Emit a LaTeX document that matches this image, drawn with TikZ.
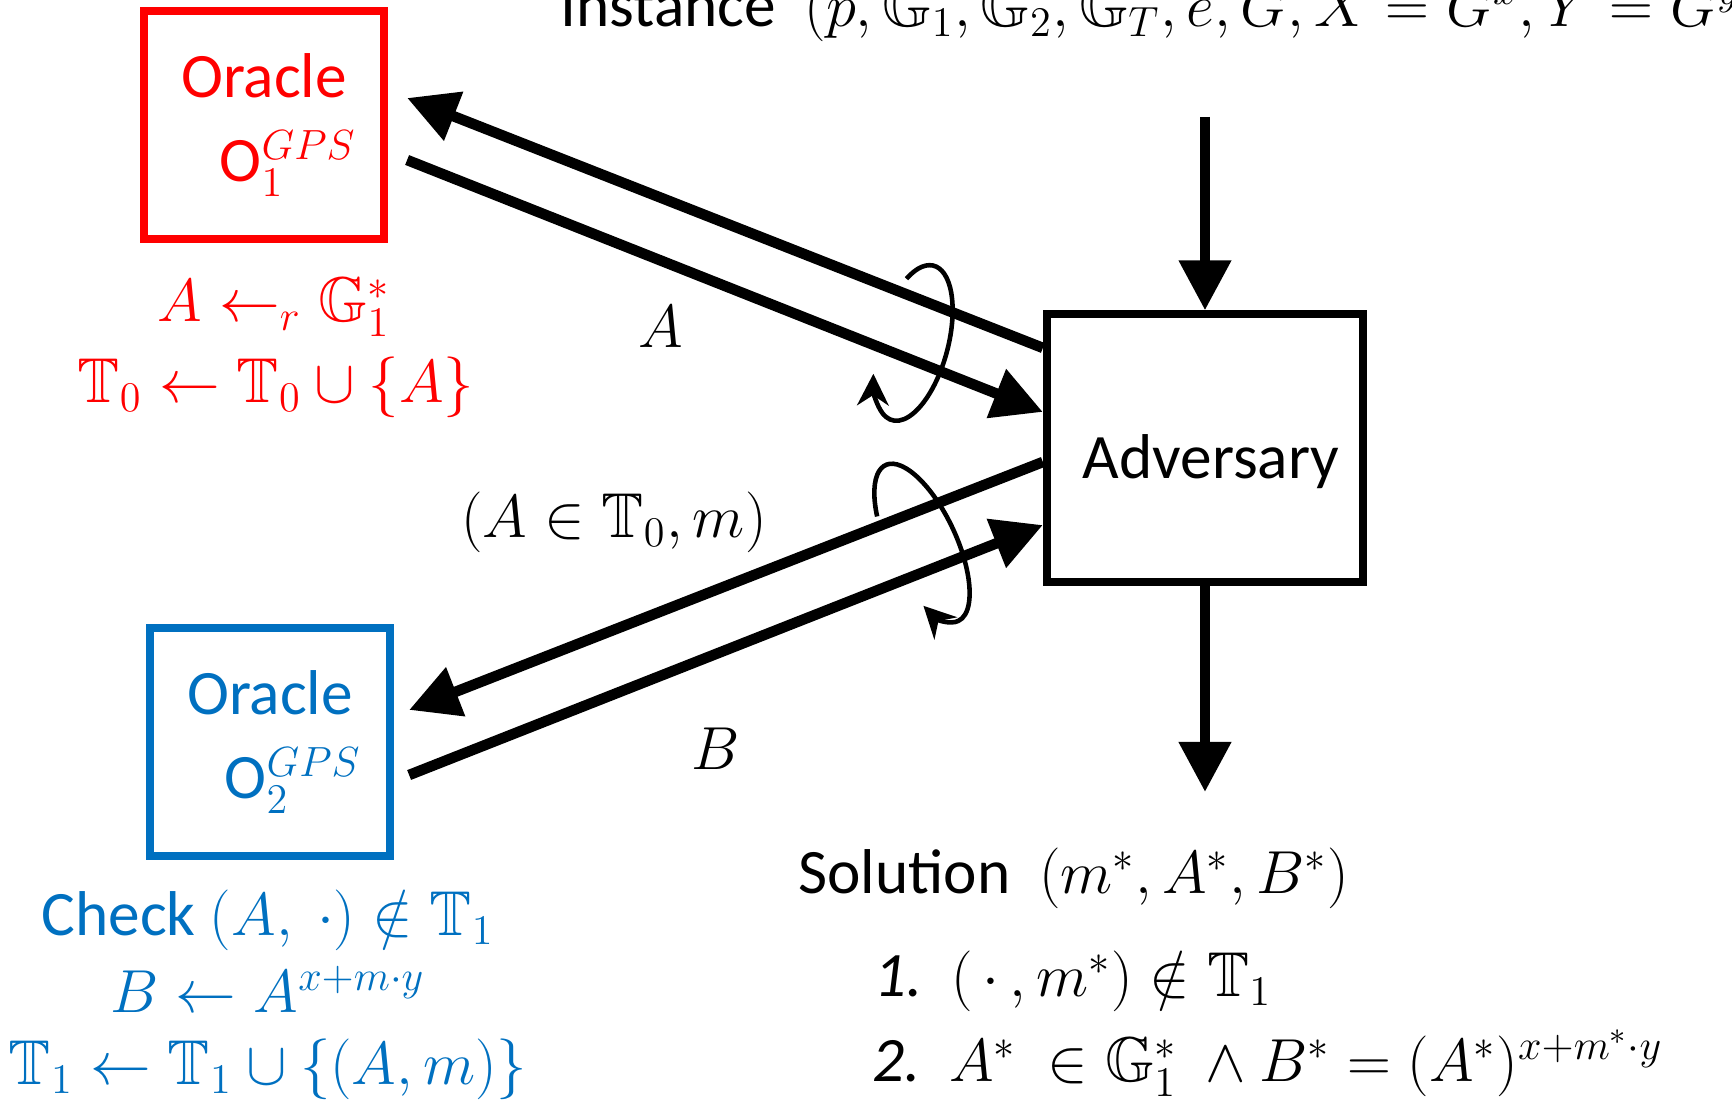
\documentclass[tikz,border=0pt]{standalone}
\usepackage{amsmath, amssymb}
\usepackage{fontspec}
\setmainfont{Carlito}
\usepackage{tikz}
\usetikzlibrary{arrows.meta, calc}
\definecolor{oracleA}{RGB}{255, 0, 0}
\definecolor{oracleB}{RGB}{0, 112, 192}

\begin{document}
\begin{tikzpicture}[x=0.01cm, y=-0.01cm, font=\fontsize{18}{22}\selectfont,
    box/.style={draw, line width=2.3pt, minimum width=2.4cm, minimum height=2.28cm, align=center, inner sep=0pt},
    flow/.style={line width=3pt, -{Triangle[length=0.5cm, width=0.5cm]}},
    spin/.style={line width=1.3pt, -{Stealth[length=9pt, width=9pt]}}]
  \useasboundingbox (0,0) rectangle (1732,1104);

  % Oracles and adversary
  \node[box, oracleA] (oracleI) at (264,125) {Oracle\\[2pt]\hspace*{0.48cm}$\mathrm{O}_1^{GPS}$};
  \node[box, oracleB] (oracleII) at (270,742) {Oracle\\[2pt]\hspace*{0.46cm}$\mathrm{O}_2^{GPS}$};
  \node[box, minimum width=3.16cm, minimum height=2.67cm, text height=0.6cm, text depth=0pt] (adv) at (1205,448) {\hspace*{0.12cm}Adversary};

  % Instance and solution
  \node[anchor=base west] (inst) at (548,27) {Instance\ \ $(p, \mathbb{G}_1, \mathbb{G}_2, \mathbb{G}_T, e, G, X = G^x, Y = G^y)$};
  \coordinate (instend) at (1205,117);
  \coordinate (solend) at (1205,792);
  \draw[flow] (instend) -- (adv.north);
  \draw[flow] (adv.south) -- (solend);

  \node[anchor=west] (sol) at (786,878) {Solution\ \ $(m^*, A^*, B^*)$};
  \node[anchor=west] (condI) at (862,981) {\textit{1.}\ \ $(\,\cdot\,, m^*) \notin \mathbb{T}_1$};
  \node[anchor=west] (condII) at (860,1063) {\textit{2.}\ \ $A^*\ \in \mathbb{G}_1^*\ \wedge B^* = (A^*)^{x+m^*\cdot y}$};

  % Queries to the first oracle
  \coordinate (qI) at ([shift={(0.19cm,0.27cm)}]oracleI.east);
  \coordinate (aI) at ([shift={(0.19cm,-0.35cm)}]oracleI.east);
  \draw[flow] ([yshift=1.0cm]adv.west) -- (qI);
  \draw[flow] (aI) -- ([yshift=0.36cm]adv.west);
  \node (lblA) at (661,327) {$A$};

  % Queries to the second oracle
  \coordinate (qII) at ([shift={(0.15cm,0.32cm)}]oracleII.east);
  \coordinate (aII) at ([shift={(0.15cm,-0.33cm)}]oracleII.east);
  \draw[flow] ([yshift=-0.14cm]adv.west) -- (qII);
  \draw[flow] (aII) -- ([yshift=-0.77cm]adv.west);
  \node (lblQ) at (614,522) {$(A \in \mathbb{T}_0, m)$};
  \node (lblB) at (716,749) {$B$};

  % Repeated queries
  \begin{scope}[shift={(913,343)}, rotate=-15]
    \draw[spin] ({35*cos(-131)},{80*sin(-131)}) arc[start angle=-131, end angle=150, x radius=35, y radius=80];
  \end{scope}
  \begin{scope}[shift={(922,543)}, rotate=25]
    \draw[spin] ({34*cos(-150)},{86*sin(-150)}) arc[start angle=-150, end angle=138, x radius=34, y radius=86];
  \end{scope}

  % Oracle bookkeeping
  \node[oracleA] (genA) at (274,307) {$A \leftarrow_r \mathbb{G}_1^*$};
  \node[oracleA] (addA) at (276,387) {$\mathbb{T}_0 \leftarrow \mathbb{T}_0 \cup \{A\}$};
  \node[oracleB] (chk) at (268,920) {Check $(A,\ \cdot) \notin \mathbb{T}_1$};
  \node[oracleB] (setB) at (268,989) {$B \leftarrow A^{x+m\cdot y}$};
  \node[oracleB] (addB) at (268,1069) {$\mathbb{T}_1 \leftarrow \mathbb{T}_1 \cup \{(A,m)\}$};
\end{tikzpicture}
\end{document}
